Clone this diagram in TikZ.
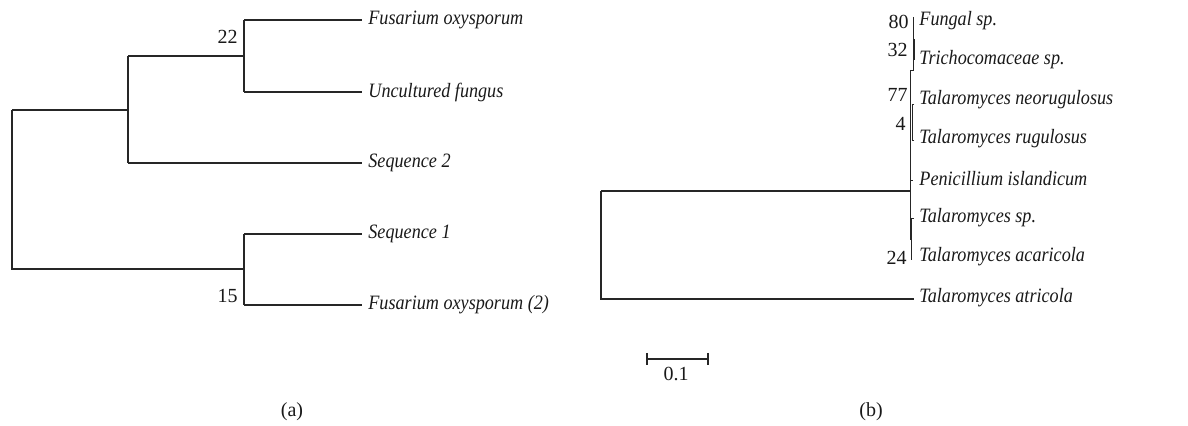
\documentclass[tikz,border=0pt]{standalone}
\usepackage{fontspec}
\setmainfont{Liberation Serif}
\newfontfamily\leaffont{Liberation Serif}[FakeStretch=0.89]
\begin{document}
\begin{tikzpicture}[x=0.5pt,y=-0.5pt,
  br/.style={draw=black!85, line width=0.55pt},
  fine/.style={draw=black!85, line width=0.45pt},
  leaf/.style={anchor=west, font=\leaffont\itshape\fontsize{10.2}{12}\selectfont, inner sep=0pt, text=black!90},
  boot/.style={font=\fontsize{10}{12}\selectfont, inner sep=0pt, text=black!90},
  captext/.style={font=\fontsize{10}{12}\selectfont, inner sep=0pt, text=black!90}]
\useasboundingbox (0,0) rectangle (1188,426);
% ---------- tree (a) ----------
\coordinate (aroot) at (12,110);
\coordinate (arootb) at (12,269);
\coordinate (aup) at (128,110);
\coordinate (aupt) at (128,56);
\coordinate (aupb) at (128,163);
\coordinate (a22) at (244,56);
\coordinate (a22t) at (244,20);
\coordinate (a22b) at (244,92);
\coordinate (a15) at (244,269);
\coordinate (a15t) at (244,234);
\coordinate (a15b) at (244,305);
\coordinate (l1) at (362,20);
\coordinate (l2) at (362,92);
\coordinate (l3) at (362,163);
\coordinate (l4) at (362,234);
\coordinate (l5) at (362,305);
\draw[br] (aroot) -- (aup);
\draw[br] (aroot) -- (arootb) -- (a15);
\draw[br] (aupt) -- (aupb);
\draw[br] (aupt) -- (a22);
\draw[br] (aupb) -- (l3);
\draw[br] (a22t) -- (a22b);
\draw[br] (a22t) -- (l1);
\draw[br] (a22b) -- (l2);
\draw[br] (a15t) -- (a15b);
\draw[br] (a15t) -- (l4);
\draw[br] (a15b) -- (l5);
\node[leaf] (t1) at (368,20) {Fusarium oxysporum};
\node[leaf] (t2) at (368,92) {Uncultured fungus};
\node[leaf] (t3) at (368,163) {Sequence 2};
\node[leaf] (t4) at (368,234) {Sequence 1};
\node[leaf] (t5) at (368,305) {Fusarium oxysporum (2)};
\node[boot, anchor=east] (b22) at (238,37) {22};
\node[boot, anchor=east] (b15) at (238,296) {15};
\node[captext] (capa) at (292,412) {(a)};
% ---------- tree (b) ----------
\coordinate (broot) at (601,191);
\coordinate (brootb) at (601,299);
\coordinate (bc) at (910,191);
\coordinate (batr) at (914,299);
\coordinate (m1) at (910,70);
\coordinate (m2) at (910,240);
\coordinate (n80t) at (913,17);
\coordinate (n80b) at (913,70);
\coordinate (n32t) at (914.5,39);
\coordinate (n32b) at (914.5,60);
\coordinate (n77t) at (912,104);
\coordinate (n77b) at (912,140);
\coordinate (n77tl) at (914,104);
\coordinate (n77bl) at (914,140);
\coordinate (pen0) at (910,180);
\coordinate (pen1) at (913,180);
\coordinate (n24t) at (911.5,218);
\coordinate (n24b) at (911.5,260);
\coordinate (n24tl) at (914,218);
\draw[br] (broot) -- (bc);
\draw[br] (broot) -- (brootb) -- (batr);
\draw[fine] (m1) -- (m2);
\draw[fine] (n80t) -- (n80b) -- (m1);
\draw[br] (n32t) -- (n32b);
\draw[fine] (n77t) -- (n77b);
\draw[fine] (n77tl) -- (n77t);
\draw[fine] (n77bl) -- (n77b);
\draw[fine] (pen0) -- (pen1);
\draw[fine] (n24t) -- (n24b);
\draw[fine] (n24tl) -- (n24t);
\node[leaf] (r1) at (919,21) {Fungal sp.};
\node[leaf] (r2) at (919,60) {Trichocomaceae sp.};
\node[leaf] (r3) at (919,100) {Talaromyces neorugulosus};
\node[leaf] (r4) at (919,139) {Talaromyces rugulosus};
\node[leaf] (r5) at (919,179) {Penicillium islandicum};
\node[leaf] (r6) at (919,218) {Talaromyces sp.};
\node[leaf] (r7) at (919,257) {Talaromyces acaricola};
\node[leaf] (r8) at (919,298) {Talaromyces atricola};
\node[boot, anchor=east] (b80) at (909,22) {80};
\node[boot, anchor=east] (b32) at (908,50) {32};
\node[boot, anchor=east] (b77) at (908,95) {77};
\node[boot, anchor=east] (b4) at (906,124) {4};
\node[boot, anchor=east] (b24) at (907,258) {24};
% scale bar
\coordinate (s0) at (647,359);
\coordinate (s1) at (708,359);
\coordinate (s0t) at (647,353);
\coordinate (s0b) at (647,365);
\coordinate (s1t) at (708,353);
\coordinate (s1b) at (708,365);
\draw[br] (s0) -- (s1);
\draw[br] (s0t) -- (s0b);
\draw[br] (s1t) -- (s1b);
\node[boot] (sl) at (676,374) {0.1};
\node[captext] (capb) at (871,412) {(b)};
\end{tikzpicture}
\end{document}
